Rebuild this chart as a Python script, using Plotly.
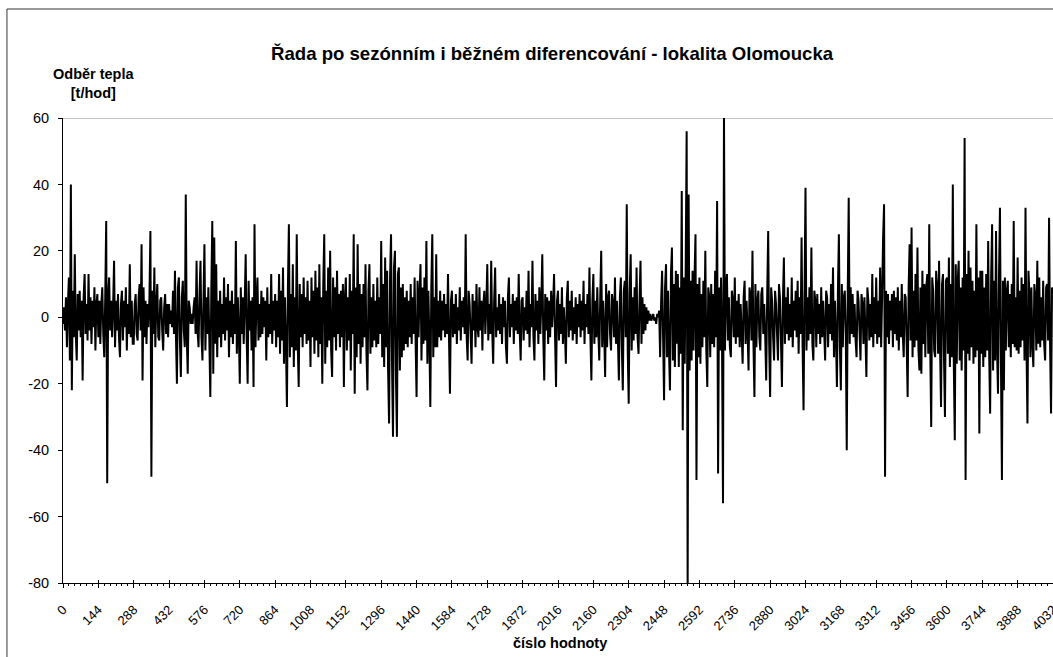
import plotly.graph_objects as go

# Differenced heat-consumption series, sampled every 4th observation
obs_step = 4
heat_diff = [
    # 0 - 140
    -2, 3, -4, 6, -9, 4, 12, -13, 40, -22, 8, -6, 19, -5, -13, 7, -4, 8,
    -6, 5, -19, 6, 13, -5, 4, -7, 13, -4, 6, -8, 5, -3, 9, -10, 4, 7,
    # 144 - 284
    -6, 5, -8, 4, 9, -5, -12, 6, 29, -50, 7, 12, -4, 5, -6, 3, 17, -9,
    5, -4, 7, -6, -12, 4, 8, -7, 5, -3, 9, -10, 4, -5, 16, -6, 5, -8,
    # 288 - 428
    -8, 4, 7, -5, -7, 6, 10, -4, 22, -19, 9, -6, 5, -8, 4, -3, 6, 26,
    -48, 8, -5, 15, -9, 4, 10, -6, -7, 5, 6, -4, -10, 3, 7, -5, 4, -6,
    # 432 - 572
    4, -2, 2, -3, 8, -5, 14, -6, -20, 9, 12, -7, -18, 6, 11, -4, -9, 37,
    -6, -17, 5, 3, -2, 1, -2, 3, 6, -5, 17, -4, -9, 7, 17, -6, -13, 5,
    # 576 - 716
    22, -10, 6, -5, 9, -7, -24, 8, 29, -17, 24, -8, 16, -12, 5, -6, 8, -9,
    4, -5, 12, -7, 6, -4, 10, -12, 5, -6, 8, -8, 4, -5, 23, -11, 6, -4,
    # 720 - 860
    -20, 9, -5, 6, -8, 4, 19, -6, -20, 11, -4, 5, -10, 6, -21, 28, -9, 5,
    12, -7, 4, -6, 8, -5, 6, -3, 5, -13, 9, -6, 4, -5, 13, -8, 5, -4,
    # 864 - 1004
    7, -9, 5, -6, 13, -11, 8, -7, 15, -14, 6, -8, -27, 9, 28, -12, 7, -9,
    16, -15, 6, -10, 25, -8, -21, 10, -6, 7, -9, 12, -5, 6, -8, 11, -7, 5,
    # 1008 - 1148
    -15, 12, -6, 8, -11, 14, -7, 9, -12, 16, -8, 6, -20, 10, 25, -14, 8, -9,
    15, -7, 20, -10, -18, 12, -6, 9, -10, 14, -5, 7, -9, 8, -6, 10, -21, 6,
    # 1152 - 1292
    12, -10, 6, -7, 13, -16, 8, -5, 25, -23, 9, -12, 22, -8, 10, -14, 7, -9,
    10, -6, 16, -11, -22, 8, 16, -11, 6, -9, 10, -7, 5, -9, 12, -8, 6, -5,
    # 1296 - 1436
    23, -12, 10, -15, 18, -9, 14, -16, -32, 12, 25, -14, -36, 15, 20, -18, -36, 13,
    15, -16, 9, -12, 10, -10, 6, -8, 8, -9, 5, -6, 10, -8, 6, -5, 12, -7,
    # 1440 - 1580
    -24, 11, -6, 7, 16, -13, 9, -8, 12, -7, 23, -14, 8, -6, -27, 9, 25, -12,
    6, -9, 19, -9, 5, -6, 8, -7, 5, -4, 7, -6, 4, -5, 13, -6, -23, 5,
    # 1584 - 1724
    8, -6, 4, -5, 7, -8, 3, -4, 9, -7, 5, -3, 6, -5, 25, -6, -13, 8,
    4, -5, -14, 7, -4, 5, -9, 10, -3, -6, 9, -4, 5, -10, 4, 8, -5, 3,
    # 1728 - 1868
    16, -7, 4, -5, 17, -4, -14, 5, 15, -6, 3, -4, 7, -5, 4, -8, 6, -3,
    5, -9, -14, 6, 12, -6, 4, -3, 7, -8, 5, -4, 6, -5, 13, -4, -13, 5,
    # 1872 - 2012
    6, -7, 3, -4, 8, -5, 14, -9, 4, -3, 17, -6, -13, 7, -4, 5, -8, 9,
    -5, 4, 19, -6, -19, 7, -4, 6, -8, 5, -6, 8, -3, 4, 13, -6, -21, 5,
    # 2016 - 2156
    8, -7, 4, -5, 9, -8, 3, -4, -14, 6, 11, -6, 5, -4, 8, -7, 3, -5,
    6, -8, 4, -3, 7, -6, 5, -4, 11, -8, 4, -3, 7, -5, 15, -6, -19, 5,
    # 2160 - 2300
    13, -8, 5, -6, 9, -4, -13, 6, 20, -9, 5, -4, -18, 10, -9, 6, 8, -5,
    -10, 7, 4, -6, 12, -8, 5, -7, -19, 6, 12, -9, -22, 8, 11, -6, 34, -10,
    # 2304 - 2444
    -26, 8, 19, -10, 6, -7, 9, -5, 15, -6, -11, 5, 17, -8, 6, -5, 4, -4,
    3, -2, 2, -1, 1, -1, 0, 1, -1, 0, -2, 1, 0, 2, -12, 5, 14, -6,
    # 2448 - 2588
    -25, 9, 16, -12, 8, -10, -22, 13, 21, -13, 10, -15, 14, -8, 13, -15, 9, -11,
    38, -34, 12, -14, 15, 56, -82, 37, -16, 11, -13, 14, -10, 12, 25, -49, 10, -12,
    # 2592 - 2732
    12, -14, 7, -9, 11, -6, 20, -10, -21, 9, 6, -12, 10, -8, 7, -9, 14, -6,
    35, -47, 9, -10, 12, -8, -56, 62, -10, 8, 13, -7, 6, -9, -12, 8, 5, -6,
    # 2736 - 2876
    12, -8, 5, -6, 7, -9, 4, -5, -14, 6, 11, -8, 5, -4, -16, 9, 6, -7,
    20, -8, -24, 10, -9, 5, 8, -6, -10, 7, 9, -5, 4, -6, -19, 7, 26, -8,
    # 2880 - 3020
    -24, 9, 5, -6, -13, 8, 4, -5, -13, 10, 6, -7, -21, 5, 18, -8, 6, -5,
    9, -7, 4, -6, 12, -9, 5, -4, 8, -6, 11, -11, 6, -5, 24, -8, -28, 7,
    # 3024 - 3164
    39, -10, 6, -7, 9, -5, 21, -8, -13, 8, 5, -9, 7, -5, 4, -8, 9, -6,
    5, -4, -13, 8, 6, -9, 4, -5, 10, -7, 15, -12, 5, -6, -21, 8, 25, -9,
    # 3168 - 3308
    -22, 10, -9, 6, 8, -5, -40, 7, 36, -8, 9, -5, 7, -6, 4, -7, -12, 8,
    5, -4, -13, 7, 4, -8, 6, -5, -18, 9, 5, -7, 4, -6, 13, -9, 6, -5,
    # 3312 - 3452
    12, -8, 5, -6, 15, -9, 6, 24, 34, -48, 8, -6, 7, -8, 5, -4, 7, -9,
    8, -5, 6, -7, 9, -10, 5, -6, 10, -5, -12, 7, 6, -8, -24, 9, 22, -7,
    # 3456 - 3596
    27, -12, 8, -9, 13, -7, 21, -10, -16, 9, -17, 14, -8, 10, -12, 9, 13, -11,
    28, -9, -33, 12, 8, -10, -12, 14, 9, -11, 17, -9, -27, 10, 13, -12, -30, 11,
    # 3600 - 3740
    12, -11, 18, -15, 10, -12, 40, -14, -37, 16, -14, 11, 17, -13, 9, -16, 12, -10,
    54, -49, 13, -11, 20, -13, 15, -9, 11, -14, 8, -12, 28, -10, 12, -35, 14, -11,
    # 3744 - 3884
    14, -15, 9, -12, 13, -10, 23, -11, -29, 12, 28, -16, 11, -13, 26, -10, -23, 12,
    33, -14, -49, 11, -22, 12, -10, 8, 11, -9, 7, -12, 10, -8, 29, -9, 6, -10,
    # 3888 - 4032
    18, -11, 8, -9, 12, -7, 10, -13, 33, -9, -32, 14, 7, -12, 9, -8, -15, 10,
    6, -10, 17, -8, 12, -9, 6, -7, 11, -8, -13, 9, 10, -7, 30, -8, -29, 9,
    7,
]
obs_number = list(range(0, obs_step * len(heat_diff), obs_step))

x_tick_values = list(range(0, 4033, 144))
x_tick_labels = [str(v) for v in x_tick_values]
y_tick_values = [-80, -60, -40, -20, 0, 20, 40, 60]
y_tick_labels = [str(v) for v in y_tick_values]

title_text = "Řada po sezónním i běžném diferencování - lokalita Olomoucka"
y_title_text = "Odběr tepla<br>[t/hod]"
x_title_text = "číslo hodnoty"

FONT = "Arial, Liberation Sans, sans-serif"

fig = go.Figure()
fig.add_trace(go.Scatter(
    x=obs_number, y=heat_diff, mode="lines",
    line=dict(color="black", width=2, simplify=False),
    hoverinfo="skip", showlegend=False,
))
# invisible helper trace for the inward half of the crossing major ticks
fig.add_trace(go.Scatter(x=[0], y=[0], xaxis="x2", mode="none",
                         hoverinfo="skip", showlegend=False))

fig.update_layout(
    template="none",
    width=1053, height=657,
    margin=dict(l=63, r=0, t=118, b=74, autoexpand=False),
    paper_bgcolor="white", plot_bgcolor="white",
    font=dict(family=FONT, color="black"),
    xaxis=dict(
        range=[0, 4032], showgrid=False, zeroline=False, automargin=False,
        showline=True, linecolor="black", linewidth=1,
        tickmode="array", tickvals=x_tick_values, ticktext=x_tick_labels,
        tickangle=-45, ticks="outside", ticklen=4, tickcolor="black",
        tickfont=dict(size=13, family=FONT), ticklabelstandoff=9,
        ticklabeloverflow="allow",
        minor=dict(dtick=24, tick0=0, ticks="outside", ticklen=2, tickcolor="black"),
    ),
    xaxis2=dict(
        range=[0, 4032], overlaying="x", anchor="y", side="bottom",
        showgrid=False, zeroline=False, showline=False, automargin=False,
        tickmode="array", tickvals=x_tick_values, showticklabels=False,
        ticks="inside", ticklen=3, tickcolor="black",
    ),
    yaxis=dict(
        range=[-80, 60], showgrid=False, zeroline=False, automargin=False,
        showline=True, linecolor="black", linewidth=1,
        tickmode="array", tickvals=y_tick_values, ticktext=y_tick_labels,
        ticks="outside", ticklen=4, tickcolor="black",
        tickfont=dict(size=14.5, family=FONT), ticklabelstandoff=6,
    ),
    shapes=[
        # plot-area top border
        dict(type="line", xref="paper", yref="y", x0=0, x1=1, y0=60, y1=60,
             line=dict(color="#8a8a8a", width=1), layer="below"),
        # chart-area frame (left and top edges)
        dict(type="line", xref="paper", yref="paper", x0=-0.0566, x1=-0.0566,
             y0=-0.2, y1=1.2344, line=dict(color="#333333", width=1)),
        dict(type="line", xref="paper", yref="paper", x0=-0.0566, x1=1.01,
             y0=1.2344, y1=1.2344, line=dict(color="#333333", width=1)),
    ],
    annotations=[
        dict(text="<b>" + title_text + "</b>", xref="paper", yref="paper",
             x=0.494, y=1.1397, xanchor="center", yanchor="middle",
             showarrow=False, font=dict(size=18.6, family=FONT, color="black")),
        dict(text="<b>" + y_title_text + "</b>", xref="paper", yref="paper",
             x=0.0313, y=1.0742, xanchor="center", yanchor="middle",
             showarrow=False, font=dict(size=14.5, family=FONT, color="black")),
        dict(text="<b>" + x_title_text + "</b>", xref="paper", yref="paper",
             x=0.502, y=-0.129, xanchor="center", yanchor="middle",
             showarrow=False, font=dict(size=14.5, family=FONT, color="black")),
    ],
)

fig.write_html("out.html", config={"displayModeBar": False})
